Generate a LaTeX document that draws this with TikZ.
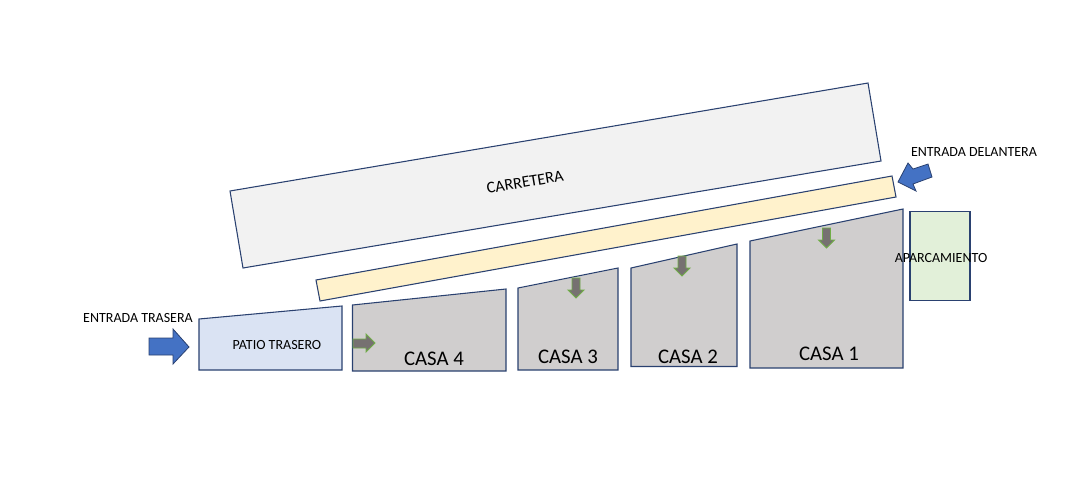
\documentclass[tikz,border=0pt]{standalone}
\usepackage{fontspec}
\setmainfont{Carlito}
\usetikzlibrary{arrows, arrows.meta}
\definecolor{lineblue}{HTML}{2A4170}
\definecolor{roadgray}{HTML}{F2F2F2}
\definecolor{pathyellow}{HTML}{FFF2CC}
\definecolor{casagray}{HTML}{D0CECE}
\definecolor{patioblue}{HTML}{DAE3F3}
\definecolor{parkgreen}{HTML}{E2F0D9}
\definecolor{entryblue}{HTML}{4472C4}
\definecolor{marklgray}{HTML}{767171}
\definecolor{markgreen}{HTML}{70AD47}
\tikzset{
  plot/.style={draw=lineblue, line width=0.8pt, line join=miter},
  entry/.style={draw=lineblue, fill=entryblue, line width=0.6pt},
  casaarrow/.style={draw=markgreen, fill=marklgray, line width=0.7pt},
  smalllabel/.style={font=\fontsize{10.5}{12}\selectfont, inner sep=0pt},
  casalabel/.style={font=\fontsize{15.6}{18}\selectfont, inner sep=0pt}
}
\begin{document}
\begin{tikzpicture}[x=0.75pt,y=-0.75pt]
\useasboundingbox (0,0) rectangle (1079,482);
\draw[plot, fill=roadgray] (230,191) -- (868,83) -- (881,161) -- (243,268) -- cycle;
\draw[plot, fill=pathyellow] (316,280) -- (892,176) -- (896,197) -- (320,301) -- cycle;
\draw[plot, fill=patioblue] (199,319) -- (342,306) -- (342,370) -- (199,370) -- cycle;
\draw[plot, fill=casagray] (352.5,305) -- (506,289) -- (506,371) -- (352.5,371) -- cycle;
\draw[plot, fill=casagray] (518,288) -- (618,268) -- (618,370) -- (518,370) -- cycle;
\draw[plot, fill=casagray] (631,268) -- (737,244) -- (737,366.5) -- (631,366.5) -- cycle;
\draw[plot, fill=casagray] (750,241) -- (903,209) -- (903,368) -- (750,368) -- cycle;
\draw[plot, fill=parkgreen] (910,211.5) rectangle (970,300.5);
% entradas
\draw[entry] (898,182) -- (908,163) -- (913,169) -- (928,164) -- (932,177) -- (913,184) -- (916,191) -- cycle;
\draw[entry] (189,347) -- (173,329) -- (173,338) -- (149,338) -- (149,355) -- (173,355) -- (173,364) -- cycle;
% flechas de las casas
\foreach \x/\y in {826.5/228, 682/256, 576/278}
  \draw[casaarrow] (\x,\y) ++(-4,0) -- ++(8,0) -- ++(0,12) -- ++(4,0) -- ++(-8,8) -- ++(-8,-8) -- ++(4,0) -- cycle;
\draw[casaarrow] (353,339) -- (366,339) -- (366,334) -- (375,343) -- (366,352) -- (366,348) -- (353,348) -- cycle;
\node[smalllabel, rotate=9.6] (carretera) at (525,182) {\fontsize{12.2}{14}\selectfont CARRETERA};
\node[smalllabel] (delantera) at (974,152) {ENTRADA DELANTERA};
\node[smalllabel] (trasera) at (138,318) {ENTRADA TRASERA};
\node[smalllabel] (patio) at (277,345) {PATIO TRASERO};
\node[smalllabel] (aparcamiento) at (941,258) {APARCAMIENTO};
\node[casalabel] (casa4) at (434,359) {CASA 4};
\node[casalabel] (casa3) at (568,357) {CASA 3};
\node[casalabel] (casa2) at (688,357) {CASA 2};
\node[casalabel] (casa1) at (829,354) {CASA 1};
\end{tikzpicture}
\end{document}
